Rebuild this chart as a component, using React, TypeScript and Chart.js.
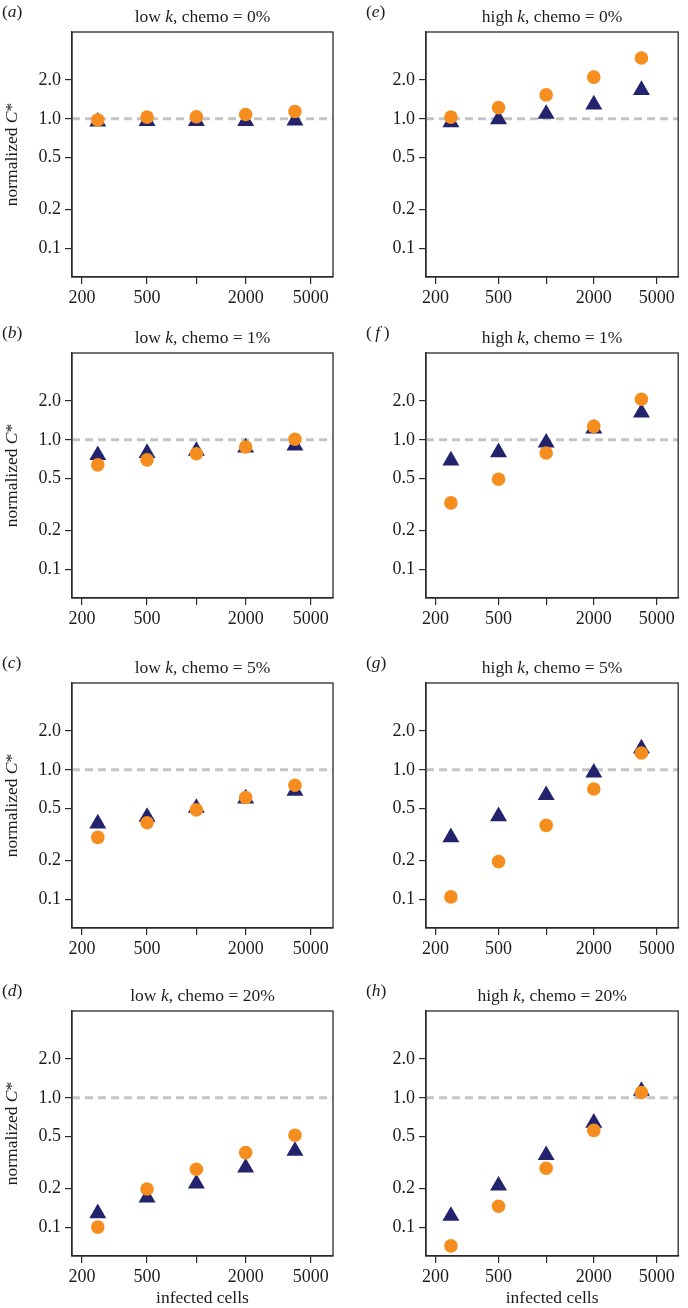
import React, { useEffect, useRef } from 'react';
import { Chart, registerables } from 'chart.js';

Chart.register(...registerables);

// ---------- data ----------
const X_VALUES = [250, 500, 1000, 2000, 4000];
const X_TICKS = [200, 500, 1000, 2000, 5000];
const X_TICK_LABELS = ['200', '500', '', '2000', '5000'];
const Y_TICKS = [0.1, 0.2, 0.5, 1, 2];
const Y_TICK_LABELS = ['0.1', '0.2', '0.5', '1.0', '2.0'];
const X_MIN = 174;
const X_MAX = 6830;
const Y_MIN = 0.0598;
const Y_MAX = 4.69;
const REF_LEVEL = 1;

const PANEL_LETTERS = ['a', 'b', 'c', 'd', 'e', 'f', 'g', 'h'];
const PANEL_K = ['low', 'low', 'low', 'low', 'high', 'high', 'high', 'high'];
const PANEL_CHEMO = ['0%', '1%', '5%', '20%', '0%', '1%', '5%', '20%'];

// navy triangles
const TRI_A = [0.95, 0.96, 0.96, 0.96, 0.97];
const TRI_B = [0.76, 0.79, 0.82, 0.87, 0.9];
const TRI_C = [0.384, 0.432, 0.507, 0.6, 0.687];
const TRI_D = [0.128, 0.169, 0.217, 0.288, 0.388];
const TRI_E = [0.94, 0.99, 1.09, 1.29, 1.67];
const TRI_F = [0.69, 0.8, 0.95, 1.22, 1.62];
const TRI_G = [0.3, 0.437, 0.636, 0.95, 1.46];
const TRI_H = [0.122, 0.209, 0.36, 0.64, 1.13];

// orange circles
const CIR_A = [0.98, 1.03, 1.036, 1.08, 1.14];
const CIR_B = [0.64, 0.7, 0.78, 0.88, 1.01];
const CIR_C = [0.3, 0.39, 0.49, 0.61, 0.76];
const CIR_D = [0.1, 0.197, 0.28, 0.377, 0.514];
const CIR_E = [1.03, 1.22, 1.53, 2.1, 2.95];
const CIR_F = [0.325, 0.496, 0.79, 1.27, 2.06];
const CIR_G = [0.104, 0.195, 0.372, 0.71, 1.35];
const CIR_H = [0.0716, 0.145, 0.285, 0.56, 1.1];

const TRIANGLES = [TRI_A, TRI_B, TRI_C, TRI_D, TRI_E, TRI_F, TRI_G, TRI_H];
const CIRCLES = [CIR_A, CIR_B, CIR_C, CIR_D, CIR_E, CIR_F, CIR_G, CIR_H];

// ---------- style / layout ----------
const NAVY = '#22236c';
const ORANGE = '#f58d1f';
const GREY = '#c4c4c4';
const INK = '#1c1c1c';
const FONT = '"Liberation Serif", "Times New Roman", serif';
const FS = 17.5;
const TICK_FS = 18;

const BOX_TOPS = [32, 353, 683, 1011];
const BOX_H = 245;
const TOP_PAD = 32;
const COL_X = [0, 344];
const CANVAS_W = 344;
const BOX_LEFT = [72, 82];
const BOX_RIGHT = [333, 343];

type Seg = { t: string; it?: boolean };

function drawRich(ctx: CanvasRenderingContext2D, segs: Seg[], x: number, y: number, align: 'center' | 'left', size: number) {
  const fonts = segs.map((s) => `${s.it ? 'italic ' : ''}${size}px ${FONT}`);
  let total = 0;
  const widths = segs.map((s, i) => {
    ctx.font = fonts[i];
    const w = ctx.measureText(s.t).width;
    total += w;
    return w;
  });
  let cx = align === 'center' ? x - total / 2 : x;
  ctx.textBaseline = 'middle';
  ctx.textAlign = 'left';
  ctx.fillStyle = INK;
  segs.forEach((s, i) => {
    ctx.font = fonts[i];
    ctx.fillText(s.t, cx, y);
    cx += widths[i];
  });
}

function Panel({ idx }: { idx: number }) {
  const ref = useRef<HTMLCanvasElement | null>(null);
  const col = idx < 4 ? 0 : 1;
  const row = idx % 4;
  const isBottom = row === 3;
  const below = isBottom ? 52 : 40;
  const height = TOP_PAD + BOX_H + below;

  useEffect(() => {
    const canvas = ref.current;
    if (!canvas) return;
    const decor = {
      id: 'decor' + idx,
      afterDraw(chart: any) {
        const { ctx, chartArea: ca } = chart;
        ctx.save();
        ctx.strokeStyle = '#2a2a2a';
        ctx.lineWidth = 1.3;
        ctx.strokeRect(ca.left, ca.top, ca.right - ca.left, ca.bottom - ca.top);
        const cxm = (ca.left + ca.right) / 2;
        drawRich(ctx, [
          { t: PANEL_K[idx] + ' ' },
          { t: 'k', it: true },
          { t: ', chemo = ' + PANEL_CHEMO[idx] },
        ], cxm, ca.top - 15, 'center', FS);
        const letter = PANEL_LETTERS[idx];
        drawRich(ctx, [
          { t: '(' },
          { t: letter === 'f' ? '\u2009f\u2009' : letter, it: true },
          { t: ')' },
        ], col === 0 ? 2 : 22, ca.top - 20, 'left', FS);
        if (col === 0) {
          ctx.save();
          ctx.translate(12, (ca.top + ca.bottom) / 2);
          ctx.rotate(-Math.PI / 2);
          drawRich(ctx, [{ t: 'normalized ' }, { t: 'C', it: true }, { t: '*' }], 0, 0, 'center', FS);
          ctx.restore();
        }
        if (isBottom) {
          drawRich(ctx, [{ t: 'infected cells' }], cxm, ca.bottom + 42, 'center', FS);
        }
        ctx.restore();
      },
    };

    const chart = new Chart(canvas, {
      type: 'scatter',
      data: {
        datasets: [
          {
            label: 'orange',
            data: X_VALUES.map((x, i) => ({ x, y: CIRCLES[idx][i] })),
            pointStyle: 'circle',
            pointRadius: 6.8,
            pointBackgroundColor: ORANGE,
            pointBorderWidth: 0,
            backgroundColor: ORANGE,
            borderColor: ORANGE,
            order: 1,
          },
          {
            label: 'navy',
            data: X_VALUES.map((x, i) => ({ x, y: TRIANGLES[idx][i] })),
            pointStyle: 'triangle',
            pointRadius: 9.8,
            pointBackgroundColor: NAVY,
            pointBorderWidth: 0,
            backgroundColor: NAVY,
            borderColor: NAVY,
            order: 2,
          },
          {
            label: 'reference',
            type: 'line',
            data: [{ x: X_MIN, y: REF_LEVEL }, { x: X_MAX, y: REF_LEVEL }],
            showLine: true,
            borderColor: GREY,
            borderWidth: 3,
            borderDash: [8, 5],
            pointRadius: 0,
            fill: false,
            order: 3,
          } as any,
        ],
      },
      options: {
        responsive: false,
        animation: false,
        events: [],
        layout: {
          padding: { top: TOP_PAD, left: 0, right: CANVAS_W - BOX_RIGHT[col], bottom: 0 },
        },
        plugins: {
          legend: { display: false },
          tooltip: { enabled: false },
          title: { display: false },
        },
        scales: {
          x: {
            type: 'logarithmic',
            position: 'bottom',
            min: X_MIN,
            max: X_MAX,
            afterBuildTicks: (scale: any) => {
              scale.ticks = X_TICKS.map((v) => ({ value: v }));
            },
            afterFit: (scale: any) => {
              scale.height = below;
            },
            grid: {
              display: true,
              drawOnChartArea: false,
              drawTicks: true,
              tickLength: 7,
              color: '#2a2a2a',
              lineWidth: 1.2,
            },
            border: { display: true, color: '#2a2a2a', width: 1.3 },
            ticks: {
              autoSkip: false,
              maxRotation: 0,
              minRotation: 0,
              padding: 3,
              color: INK,
              font: { family: FONT, size: TICK_FS },
              callback: (_v: any, i: number) => X_TICK_LABELS[i],
            },
          },
          y: {
            type: 'logarithmic',
            position: 'left',
            min: Y_MIN,
            max: Y_MAX,
            afterBuildTicks: (scale: any) => {
              scale.ticks = Y_TICKS.map((v) => ({ value: v }));
            },
            afterFit: (scale: any) => {
              scale.width = BOX_LEFT[col];
            },
            grid: {
              display: true,
              drawOnChartArea: false,
              drawTicks: true,
              tickLength: 7,
              color: '#2a2a2a',
              lineWidth: 1.2,
            },
            border: { display: true, color: '#2a2a2a', width: 1.3 },
            ticks: {
              autoSkip: false,
              padding: 4,
              color: INK,
              font: { family: FONT, size: TICK_FS },
              callback: (_v: any, i: number) => Y_TICK_LABELS[i],
            },
          },
        },
      } as any,
      plugins: [decor],
    });
    return () => chart.destroy();
  }, [idx]);

  return (
    <canvas
      ref={ref}
      width={CANVAS_W}
      height={height}
      style={{
        position: 'absolute',
        left: COL_X[col],
        top: BOX_TOPS[row] - TOP_PAD,
        width: CANVAS_W,
        height,
      }}
    />
  );
}

export default function App() {
  return (
    <div style={{ position: 'absolute', left: 0, top: 0, width: 688, height: 1308, background: '#fff', overflow: 'hidden' }}>
      {PANEL_LETTERS.map((_, i) => (
        <Panel key={i} idx={i} />
      ))}
    </div>
  );
}
